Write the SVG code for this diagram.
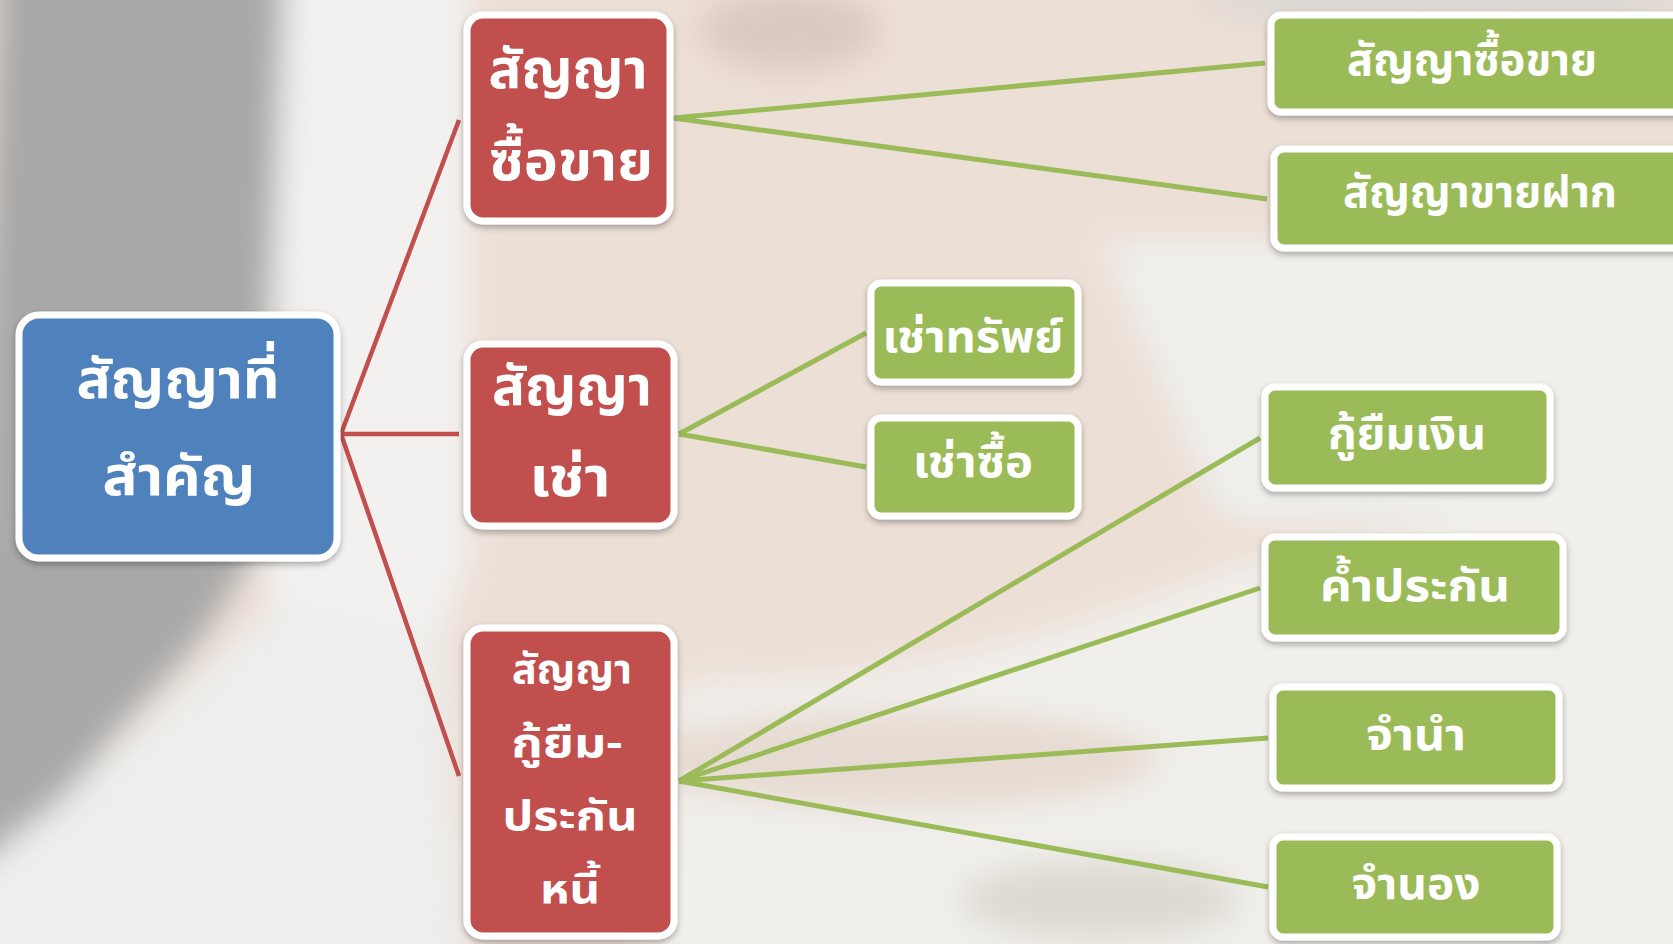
<svg xmlns="http://www.w3.org/2000/svg" width="1673" height="944" viewBox="0 0 1673 944">
<defs>
<filter id="blur" x="-20%" y="-20%" width="140%" height="140%"><feGaussianBlur stdDeviation="16"/></filter>
<filter id="sh" x="-10%" y="-10%" width="120%" height="130%"><feDropShadow dx="0" dy="3" stdDeviation="3" flood-color="#000" flood-opacity="0.3"/></filter>
<style>
.box{stroke:#fff;stroke-width:7;filter:url(#sh)}
.blue{fill:#4f81bd}
.red{fill:#c0504d}
.green{fill:#9bbb59}
.t{fill:#fff;font-family:"Noto Sans Thai","Noto Sans","DejaVu Sans",sans-serif;font-weight:bold;text-anchor:middle}
.big{font-size:55px}
.mid{font-size:44px}
.sm{font-size:41px}
.rl{stroke:#c0504d;stroke-width:4.5;fill:none}
.gl{stroke:#9bbb59;stroke-width:5;fill:none}
</style>
</defs>
<g id="background">
<rect x="0" y="0" width="1673" height="944" fill="#ecdfd6"/>
<g filter="url(#blur)">
<path d="M0,-40 L285,-40 L282,300 L262,540 L200,640 L110,740 L30,840 L-40,900 Z" fill="#a8a8a8"/>
<path d="M285,-40 L470,-40 L470,560 L420,700 L300,700 L262,560 Z" fill="#f2f1ef"/>
<path d="M-40,880 L60,800 L180,690 L280,600 L440,640 L470,980 L-40,980 Z" fill="#eeeeec"/>
<path d="M680,680 C900,690 1100,620 1250,560 L1700,480 L1700,980 L640,980 Z" fill="#f1efeb"/>
<path d="M1100,240 L1700,240 L1700,520 L1220,520 Z" fill="#efefec"/>
<ellipse cx="790" cy="30" rx="90" ry="40" fill="#d9c9c2"/>
<ellipse cx="1450" cy="0" rx="260" ry="20" fill="#d8d6d3"/>
<ellipse cx="900" cy="760" rx="260" ry="50" fill="#e6dbd2"/>
<ellipse cx="1100" cy="900" rx="140" ry="40" fill="#ddd9d2"/>
</g>
</g>
<g id="connectors">
<path class="rl" d="M341,434 L459,120 M341,434 L459,434 M341,434 L459,776"/>
<path class="gl" d="M673,118 L1265,63 M673,118 L1267,199"/>
<path class="gl" d="M679,434 L866,333 M679,434 L866,467"/>
<path class="gl" d="M679,781 L1260,438 M679,781 L1260,588 M679,781 L1268,738 M679,781 L1268,887"/>
</g>
<g id="n-root">
<rect class="box blue" x="19" y="315" width="318" height="243" rx="20"/>
<text class="t big" x="178" y="398" textLength="203" lengthAdjust="spacingAndGlyphs">สัญญาที่</text>
<text class="t big" x="179" y="495" textLength="153" lengthAdjust="spacingAndGlyphs">สำคัญ</text>
</g>
<g id="n-sale">
<rect class="box red" x="467" y="15" width="203" height="206" rx="16"/>
<text class="t big" x="568" y="88" textLength="159" lengthAdjust="spacingAndGlyphs">สัญญา</text>
<text class="t big" x="571" y="180" textLength="164" lengthAdjust="spacingAndGlyphs">ซื้อขาย</text>
</g>
<g id="n-lease">
<rect class="box red" x="467" y="344" width="207" height="182" rx="16"/>
<text class="t big" x="572" y="405" textLength="160" lengthAdjust="spacingAndGlyphs">สัญญา</text>
<text class="t big" x="570" y="496" textLength="81" lengthAdjust="spacingAndGlyphs">เช่า</text>
</g>
<g id="n-loan">
<rect class="box red" x="467" y="628" width="207" height="308" rx="16"/>
<text class="t sm" x="572" y="683" textLength="120" lengthAdjust="spacingAndGlyphs">สัญญา</text>
<text class="t sm" x="567" y="757" textLength="111" lengthAdjust="spacingAndGlyphs">กู้ยืม-</text>
<text class="t sm" x="570" y="830" textLength="135" lengthAdjust="spacingAndGlyphs">ประกัน</text>
<text class="t sm" x="570" y="903" textLength="60" lengthAdjust="spacingAndGlyphs">หนี้</text>
</g>
<g id="n-g1">
<rect class="box green" x="1271" y="15" width="420" height="97" rx="10"/>
<text class="t mid" x="1472" y="75" textLength="250" lengthAdjust="spacingAndGlyphs">สัญญาซื้อขาย</text>
</g>
<g id="n-g2">
<rect class="box green" x="1274" y="149" width="420" height="99" rx="10"/>
<text class="t mid" x="1480" y="207" textLength="274" lengthAdjust="spacingAndGlyphs">สัญญาขายฝาก</text>
</g>
<g id="n-g3">
<rect class="box green" x="871" y="283" width="207" height="99" rx="10"/>
<text class="t mid" x="973" y="352" textLength="181" lengthAdjust="spacingAndGlyphs">เช่าทรัพย์</text>
</g>
<g id="n-g4">
<rect class="box green" x="871" y="418" width="207" height="98" rx="10"/>
<text class="t mid" x="973" y="477" textLength="120" lengthAdjust="spacingAndGlyphs">เช่าซื้อ</text>
</g>
<g id="n-g5">
<rect class="box green" x="1265" y="387" width="285" height="101" rx="10"/>
<text class="t mid" x="1407" y="449" textLength="158" lengthAdjust="spacingAndGlyphs">กู้ยืมเงิน</text>
</g>
<g id="n-g6">
<rect class="box green" x="1265" y="537" width="298" height="101" rx="10"/>
<text class="t mid" x="1415" y="601" textLength="190" lengthAdjust="spacingAndGlyphs">ค้ำประกัน</text>
</g>
<g id="n-g7">
<rect class="box green" x="1273" y="687" width="286" height="101" rx="10"/>
<text class="t mid" x="1416" y="750" textLength="100" lengthAdjust="spacingAndGlyphs">จำนำ</text>
</g>
<g id="n-g8">
<rect class="box green" x="1273" y="837" width="284" height="100" rx="10"/>
<text class="t mid" x="1416" y="899" textLength="129" lengthAdjust="spacingAndGlyphs">จำนอง</text>
</g>
</svg>
